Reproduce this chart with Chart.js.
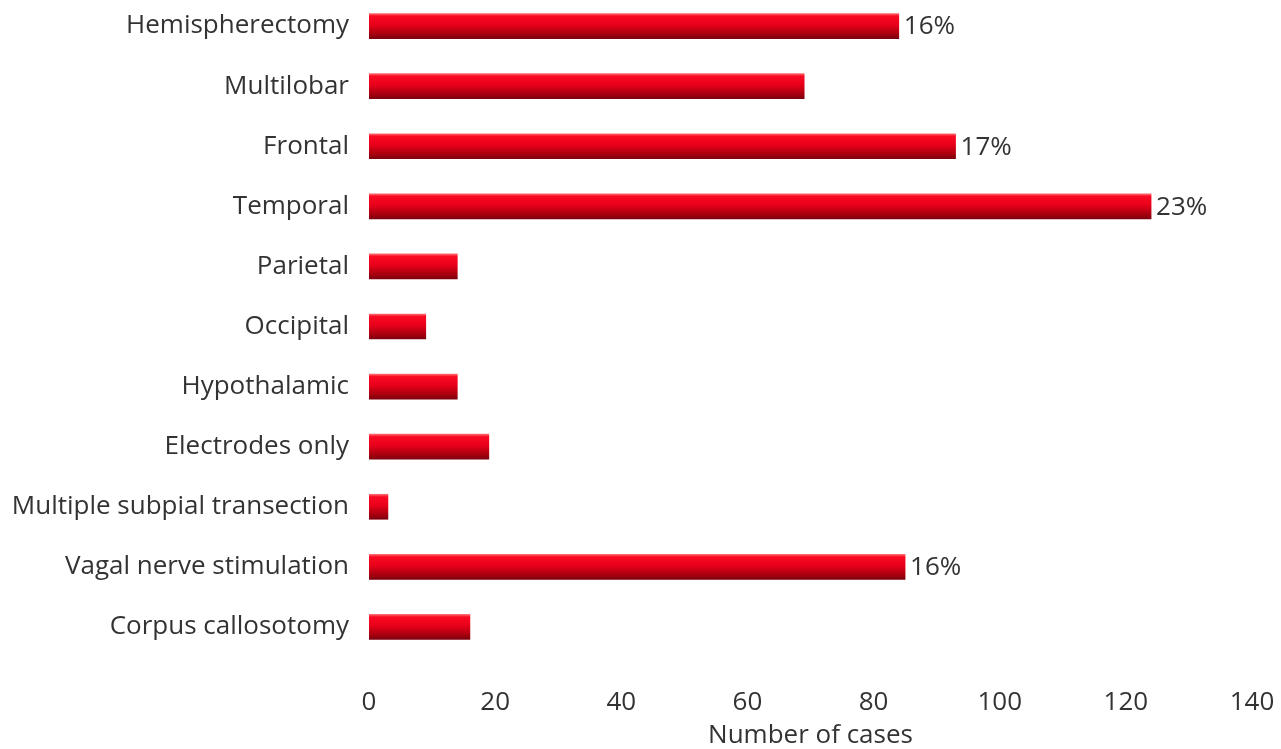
<!DOCTYPE html>
<html><head><meta charset="utf-8">
<script src="https://cdn.jsdelivr.net/npm/chart.js@4.4.1/dist/chart.umd.min.js"></script>
<style>html,body{margin:0;padding:0;background:#fff;overflow:hidden;}#wrap{width:1281px;height:749px;overflow:hidden;position:relative}#c{position:absolute;left:0;top:-4px;}</style>
</head><body><div id="wrap"><canvas id="c" width="1281" height="753"></canvas></div>
<script>
const categories = ["Hemispherectomy","Multilobar","Frontal","Temporal","Parietal","Occipital","Hypothalamic","Electrodes only","Multiple subpial transection","Vagal nerve stimulation","Corpus callosotomy"];
const cases = [84, 69, 93, 124, 14, 9, 14, 19, 3, 85, 16];
const pctLabels = ["16%","","17%","23%","","","","","","16%",""];
const xTicks = [0,20,40,60,80,100,120,140];
const FONT = "'Open Sans', sans-serif";
const FS = 26;

const barLabels = {
  id:'barLabels',
  afterDatasetsDraw(chart){
    const ctx = chart.ctx; const meta = chart.getDatasetMeta(0);
    ctx.save(); ctx.font = FS + "px " + FONT; ctx.fillStyle = "#333"; ctx.textBaseline="middle"; ctx.textAlign="left";
    meta.data.forEach((bar,i)=>{ if(pctLabels[i]) ctx.fillText(pctLabels[i], bar.x+5, bar.y+1); });
    ctx.restore();
  }
};

new Chart(document.getElementById('c'), {
  type:'bar',
  data:{ labels:categories, datasets:[{ data:cases, barThickness:25,
    backgroundColor(c){
      const ch = c.chart; if(!ch.chartArea || !ch.scales.y) return '#d8001a';
      const y = ch.scales.y.getPixelForValue(c.dataIndex);
      const g = ch.ctx.createLinearGradient(0, y-12.5, 0, y+12.5);
      g.addColorStop(0,'#ff6a70'); g.addColorStop(0.1,'#fb0a22'); g.addColorStop(0.45,'#e8001a');
      g.addColorStop(0.8,'#aa000f'); g.addColorStop(1,'#7e000e');
      return g;
    } }]},
  options:{
    indexAxis:'y', responsive:false, animation:false,
    layout:{padding:{top:0,right:29,left:0,bottom:0}},
    plugins:{legend:{display:false}, tooltip:{enabled:false}},
    scales:{
      x:{ min:0, max:140, afterBuildTicks(s){ s.ticks = xTicks.map(v=>({value:v})); },
        afterFit(s){ s.height = 92; s.paddingRight = 0; s.paddingLeft = 0; },
        grid:{display:false, drawTicks:false}, border:{display:false},
        ticks:{ font:{size:FS, family:FONT}, color:'#333', padding:30, maxRotation:0 },
        title:{ display:true, text:'Number of cases', font:{size:FS, family:FONT, lineHeight:1.0}, color:'#333', padding:{top:0,bottom:0} } },
      y:{ afterFit(s){ s.width = 369; s.paddingTop = 0; s.paddingBottom = 0; },
        grid:{display:false, drawTicks:false}, border:{display:false},
        ticks:{ font:{size:FS, family:FONT}, color:'#333', padding:20 } }
    }
  },
  plugins:[barLabels]
});
</script></body></html>
